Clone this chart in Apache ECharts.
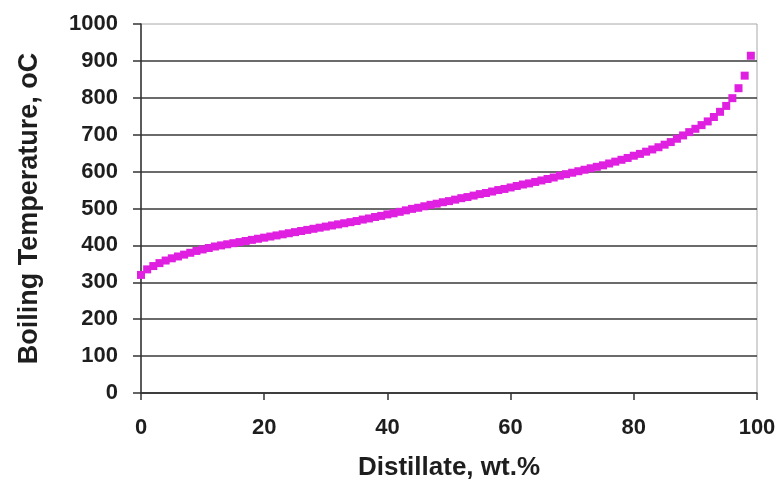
<!DOCTYPE html>
<html>
<head>
<meta charset="utf-8">
<script src="https://cdn.jsdelivr.net/npm/echarts@6/dist/echarts.min.js"></script>
<style>
html,body{margin:0;padding:0;background:#fff;}
#chart{width:781px;height:482px;}
</style>
</head>
<body>
<div id="chart"></div>
<script>
var distillate = [0,1,2,3,4,5,6,7,8,9,10,11,12,13,14,15,16,17,18,19,20,21,22,23,24,25,26,27,28,29,30,31,32,33,34,35,36,37,38,39,40,41,42,43,44,45,46,47,48,49,50,51,52,53,54,55,56,57,58,59,60,61,62,63,64,65,66,67,68,69,70,71,72,73,74,75,76,77,78,79,80,81,82,83,84,85,86,87,88,89,90,91,92,93,94,95,96,97,98,99];
var boilingTemp = [320,335,344,352,359,365,370,375,380,385,389,393,397,400,403,406,409,412,415,418,421,424,427,430,433,436,439,442,445,448,451,454,457,460,463,466,470,473,477,480,484,487,491,495,499,502,506,510,513,517,520,524,528,531,535,539,542,546,550,553,557,561,565,568,572,576,580,584,589,593,597,601,605,609,613,617,622,627,632,637,643,648,654,660,666,673,680,689,698,707,716,726,736,748,762,778,799,826,860,914];
var xTitle = 'Distillate, wt.%';
var yTitle = 'Boiling Temperature, oC';

var points = distillate.map(function (d, i) { return [d, boilingTemp[i]]; });

var chart = echarts.init(document.getElementById('chart'));
var labelFont = { fontFamily: 'Liberation Sans', fontWeight: 'bold', fontSize: 22, color: '#1e1e1e' };
chart.setOption({
  animation: false,
  backgroundColor: '#fff',
  grid: { left: 141, right: 24, top: 24, bottom: 89, show: true, borderColor: '#a8a8a8', borderWidth: 1, backgroundColor: 'transparent', outerBoundsMode: 'none', containLabel: false },
  xAxis: {
    type: 'value', min: 0, max: 100, interval: 20,
    name: xTitle, nameLocation: 'middle', nameGap: 62,
    nameTextStyle: { fontFamily: 'Liberation Sans', fontWeight: 'bold', fontSize: 26, color: '#1e1e1e' },
    axisLine: { show: true, lineStyle: { color: '#333', width: 1.5 } },
    axisTick: { show: true, inside: false, length: 7, lineStyle: { color: '#333', width: 1.5 } },
    axisLabel: Object.assign({ margin: 24, formatter: function (v) { return String(v); } }, labelFont),
    splitLine: { show: false }
  },
  yAxis: {
    type: 'value', min: 0, max: 1000, interval: 100,
    name: yTitle, nameLocation: 'middle', nameGap: 98, nameRotate: 90,
    nameTextStyle: { fontFamily: 'Liberation Sans', fontWeight: 'bold', fontSize: 27, color: '#1e1e1e' },
    axisLine: { show: true, lineStyle: { color: '#333', width: 1.5 } },
    axisTick: { show: true, inside: false, length: 8, lineStyle: { color: '#333', width: 1.5 } },
    axisLabel: Object.assign({ margin: 23, formatter: function (v) { return String(v); } }, labelFont),
    splitLine: { show: true, showMaxLine: false, lineStyle: { color: '#3a3a3a', width: 1.5 } }
  },
  series: [{
    type: 'scatter',
    data: points,
    symbol: 'rect',
    symbolSize: 8,
    itemStyle: { color: '#e020e0', opacity: 1 }
  }]
});
</script>
</body>
</html>
